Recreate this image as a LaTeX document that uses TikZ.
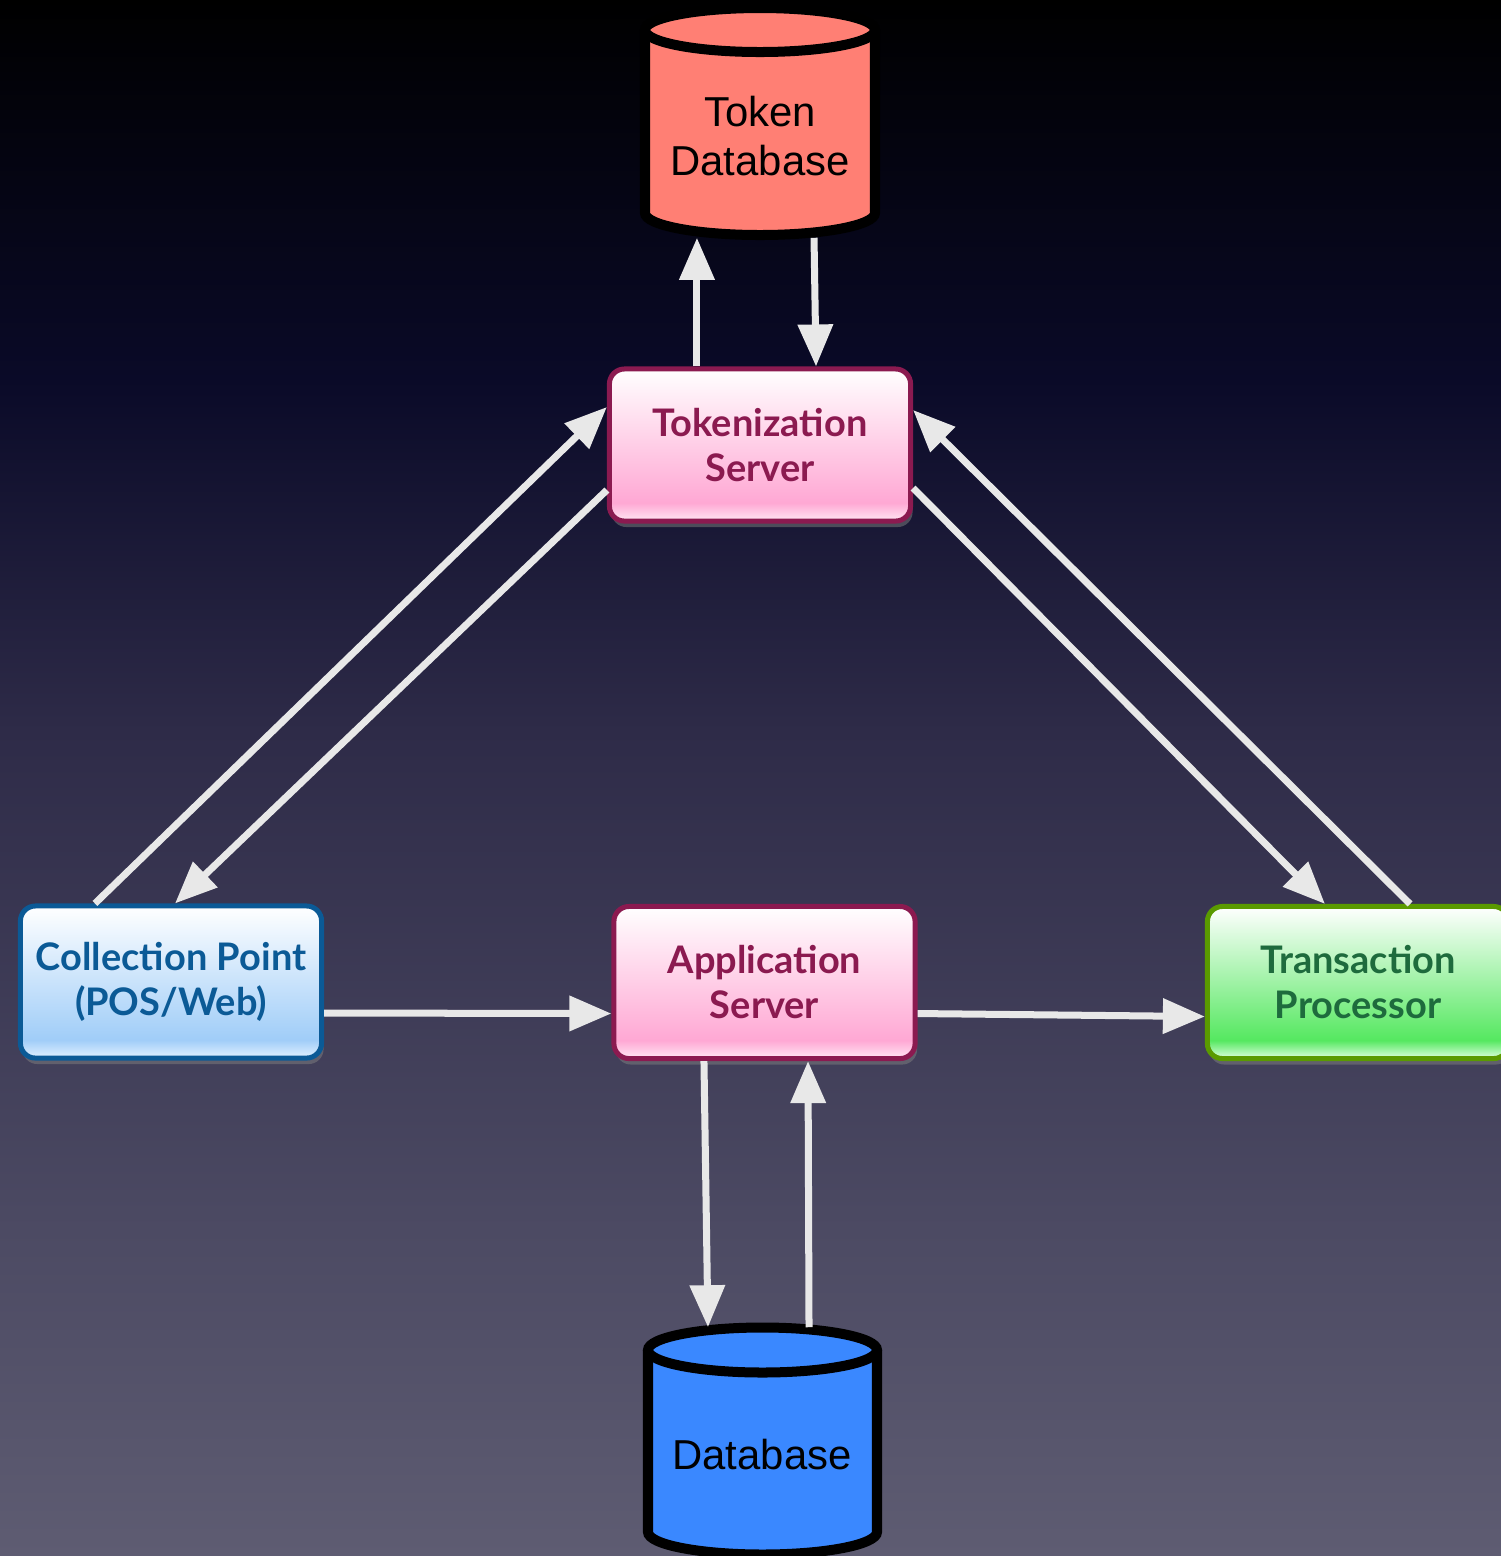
\documentclass[tikz,border=0pt]{standalone}
\usepackage{fontspec}
\setmainfont{Liberation Sans}
\newfontfamily\boxfont{Lato}
\usetikzlibrary{arrows.meta,shadows}

\definecolor{bgA}{HTML}{000000}
\definecolor{bgB}{HTML}{0A0A28}
\definecolor{bgC}{HTML}{2E2B48}
\definecolor{bgD}{HTML}{4C4A63}
\definecolor{bgE}{HTML}{5E5C72}
\definecolor{tokred}{HTML}{FF7F74}
\definecolor{dbblue}{HTML}{3A88FF}
\definecolor{pinkline}{HTML}{8B1A50}
\definecolor{pinkB}{HTML}{FFE8F4}
\definecolor{pinkM}{HTML}{FFA8D4}
\definecolor{blueline}{HTML}{0B5A96}
\definecolor{blueB}{HTML}{E2F1FF}
\definecolor{blueM}{HTML}{A0CDF8}
\definecolor{greenline}{HTML}{5A9A00}
\definecolor{greentext}{HTML}{1E6B3D}
\definecolor{greenB}{HTML}{E0FFE0}
\definecolor{greenM}{HTML}{55E860}
\definecolor{arrowgray}{HTML}{E8E8E8}

\pgfdeclareverticalshading{bgshade}{100bp}{color(0bp)=(bgE); color(25bp)=(bgE); color(35.5bp)=(bgD); color(51.5bp)=(bgC); color(62.8bp)=(bgB); color(75bp)=(bgA); color(100bp)=(bgA)}
\pgfdeclareverticalshading{pinkshade}{100bp}{color(0bp)=(pinkB); color(25bp)=(pinkB); color(31bp)=(pinkM); color(75bp)=(white); color(100bp)=(white)}
\pgfdeclareverticalshading{blueshade}{100bp}{color(0bp)=(blueB); color(25bp)=(blueB); color(31bp)=(blueM); color(75bp)=(white); color(100bp)=(white)}
\pgfdeclareverticalshading{greenshade}{100bp}{color(0bp)=(greenB); color(25bp)=(greenB); color(31bp)=(greenM); color(75bp)=(white); color(100bp)=(white)}

\tikzset{
  box/.style={draw,shade,line width=0.05cm,rounded corners=0.15cm,minimum width=3.01cm,minimum height=1.52cm,align=center,
    font=\boxfont\bfseries\fontsize{10.8pt}{12.8pt}\selectfont,
    drop shadow={shadow xshift=0.02cm,shadow yshift=-0.06cm,opacity=0.5}},
  pinkbox/.style={box,draw=pinkline,text=pinkline,shading=pinkshade},
  bluebox/.style={box,draw=blueline,text=blueline,shading=blueshade},
  greenbox/.style={box,draw=greenline,text=greentext,shading=greenshade},
  dbtext/.style={align=center,minimum width=2.3cm,font=\fontsize{11.9pt}{13.9pt}\selectfont},
  dbwall/.style={draw=black,line width=0.1cm},
  flow/.style={->,arrowgray,line width=0.07cm},
}

\begin{document}
\begin{tikzpicture}[>={Triangle[length=0.42cm,width=0.34cm]},x=0.01cm,y=-0.01cm]
        \useasboundingbox(0,0)rectangle(1501,1556);
        \shade[shading=bgshade](0,0)rectangle(1501,1556);
        % cylinders
        \draw[dbwall,fill=tokred](645,30)--(645,213)arc[start angle=180,end angle=0,x radius=115,y radius=22]--(875,30);
        \draw[dbwall,fill=tokred](760,30)ellipse[x radius=115,y radius=22];
        \draw[dbwall,fill=dbblue](648,1350)--(648,1532)arc[start angle=180,end angle=0,x radius=114.5,y radius=22.5]--(877,1350);
        \draw[dbwall,fill=dbblue](762.5,1350)ellipse[x radius=114.5,y radius=22.5];
        \node[dbtext,minimum height=2.02cm](tdb) at (760,136){Token\\Database};
        \node[dbtext,minimum height=2.54cm](db) at (762,1455){Database};
        % boxes
        \node[pinkbox](tok) at (760,445){Tokenization\\Server};
        \node[bluebox](col) at (171,982){Collection Point\\(POS/Web)};
        \node[pinkbox](app) at (764.5,982.5){Application\\Server};
        \node[greenbox](trn) at (1358,982.5){Transaction\\Processor};
        % arrows
        \draw[flow]([xshift=-0.63cm]tok.north)--([xshift=-0.63cm]tdb.south);
        \draw[flow]([xshift=0.54cm]tdb.south)--([xshift=0.56cm]tok.north);
        \draw[flow]([xshift=-0.76cm]col.north)--([yshift=0.38cm]tok.west);
        \draw[flow]([yshift=-0.45cm]tok.west)--([xshift=0.04cm]col.north);
        \draw[flow]([yshift=-0.43cm]tok.east)--([xshift=-0.33cm]trn.north);
        \draw[flow]([xshift=0.52cm]trn.north)--([yshift=0.35cm]tok.east);
        \draw[flow]([yshift=-0.31cm]col.east)--([yshift=-0.31cm]app.west);
        \draw[flow]([yshift=-0.31cm]app.east)--([yshift=-0.34cm]trn.west);
        \draw[flow]([xshift=-0.605cm]app.south)--([xshift=-0.54cm]db.north);
        \draw[flow]([xshift=0.47cm]db.north)--([xshift=0.435cm]app.south);
    \end{tikzpicture}
\end{document}
